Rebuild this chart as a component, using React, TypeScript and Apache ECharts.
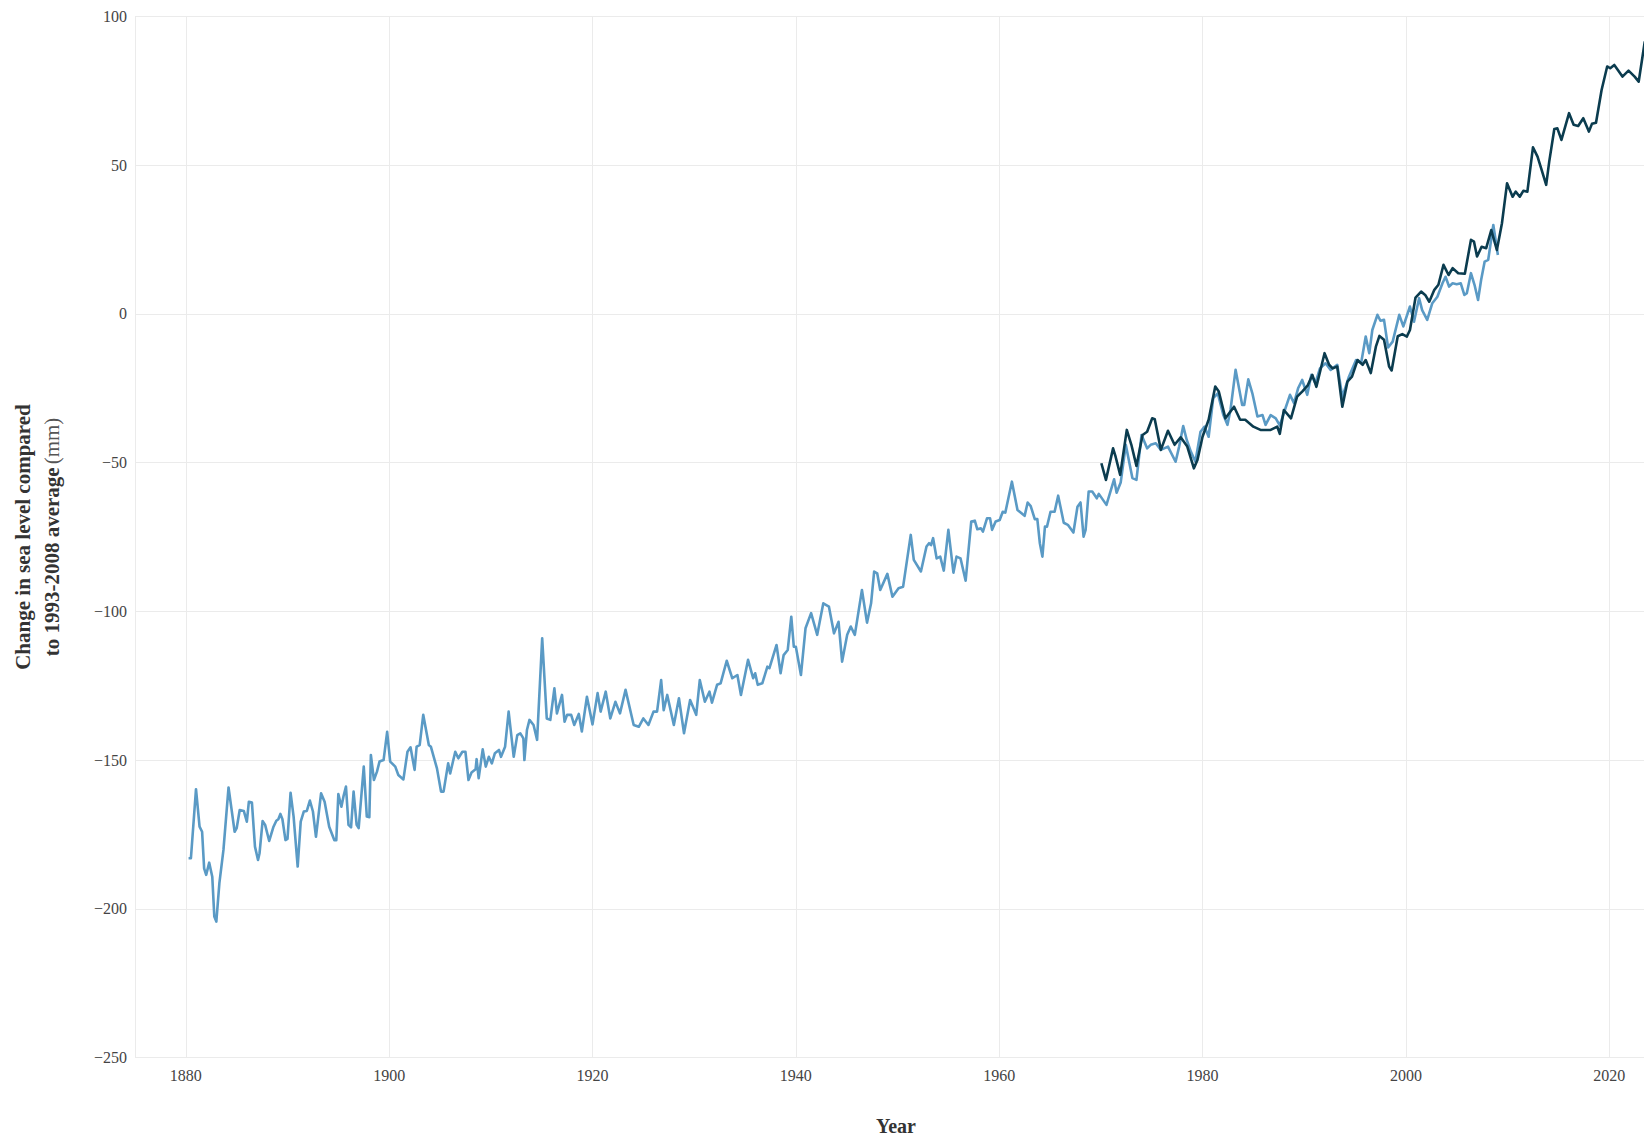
import React, { useEffect, useRef } from "react";
import * as echarts from "echarts";

// Church and White (2011) reconstruction: [year, mm]
const churchWhite: [number, number][] = [
  [1880.27, -183.0], [1880.5, -183.0], [1881.0, -159.8], [1881.35, -172.4], [1881.6, -174.1],
  [1881.8, -186.4], [1882.0, -188.6], [1882.3, -184.5], [1882.6, -189.2], [1882.8, -202.6],
  [1883.0, -204.3], [1883.3, -191.4], [1883.7, -180.2], [1884.2, -159.2], [1884.8, -174.1],
  [1885.0, -172.9], [1885.3, -166.8], [1885.7, -167.1], [1886.0, -170.7], [1886.2, -164.0],
  [1886.5, -164.3], [1886.8, -179.1], [1887.1, -183.6], [1887.25, -181.3], [1887.55, -170.5],
  [1887.8, -171.8], [1888.2, -177.2], [1888.6, -172.6], [1888.9, -170.4], [1889.1, -169.9],
  [1889.3, -168.1], [1889.5, -169.9], [1889.8, -176.9], [1890.0, -176.5], [1890.3, -161.0],
  [1890.6, -169.0], [1891.0, -185.8], [1891.3, -170.7], [1891.6, -167.3], [1891.9, -167.1],
  [1892.2, -163.6], [1892.5, -167.3], [1892.8, -175.8], [1893.3, -161.2], [1893.65, -164.0],
  [1894.1, -172.4], [1894.6, -176.9], [1894.8, -176.9], [1895.0, -161.4], [1895.3, -165.7],
  [1895.5, -162.3], [1895.75, -158.9], [1896.0, -171.8], [1896.25, -172.6], [1896.5, -160.6],
  [1896.8, -171.8], [1897.0, -172.9], [1897.5, -152.2], [1897.8, -169.0], [1898.05, -169.2],
  [1898.2, -148.3], [1898.5, -156.7], [1898.8, -153.9], [1899.05, -150.5], [1899.45, -150.0],
  [1899.8, -140.5], [1900.1, -150.5], [1900.6, -152.2], [1900.9, -155.0], [1901.4, -156.5],
  [1901.8, -147.2], [1902.1, -145.7], [1902.5, -153.3], [1902.7, -145.5], [1903.0, -145.0],
  [1903.35, -134.8], [1903.9, -144.9], [1904.1, -145.5], [1904.7, -152.8], [1905.1, -160.6],
  [1905.35, -160.6], [1905.8, -151.1], [1906.0, -154.5], [1906.5, -147.2], [1906.8, -149.4],
  [1907.2, -147.2], [1907.5, -147.2], [1907.8, -156.7], [1908.1, -154.2], [1908.5, -153.1],
  [1908.6, -149.7], [1908.8, -156.1], [1909.2, -146.4], [1909.5, -152.2], [1909.8, -148.9],
  [1910.1, -151.1], [1910.4, -147.7], [1910.8, -146.6], [1911.0, -148.9], [1911.4, -145.5],
  [1911.75, -133.7], [1912.25, -148.9], [1912.6, -141.6], [1912.9, -141.0], [1913.2, -142.7],
  [1913.3, -150.0], [1913.55, -139.9], [1913.8, -136.5], [1914.2, -138.2], [1914.55, -143.2],
  [1915.05, -109.1], [1915.5, -136.0], [1915.85, -136.5], [1916.25, -125.9], [1916.5, -134.3],
  [1917.0, -128.1], [1917.25, -137.1], [1917.5, -134.8], [1917.9, -134.8], [1918.2, -138.2],
  [1918.65, -134.5], [1918.95, -140.4], [1919.45, -128.7], [1920.0, -138.0], [1920.5, -127.5],
  [1920.8, -133.7], [1921.3, -127.0], [1921.75, -136.0], [1922.25, -130.4], [1922.7, -134.3],
  [1923.25, -126.4], [1924.05, -138.2], [1924.55, -138.8], [1925.0, -136.0], [1925.5, -138.2],
  [1926.0, -133.7], [1926.35, -133.7], [1926.75, -123.1], [1927.0, -133.2], [1927.35, -128.1],
  [1928.0, -138.2], [1928.5, -129.2], [1929.0, -141.0], [1929.6, -129.8], [1930.2, -134.8],
  [1930.55, -123.1], [1931.05, -130.4], [1931.5, -127.0], [1931.75, -130.7], [1932.25, -124.7],
  [1932.6, -124.2], [1933.2, -116.6], [1933.75, -122.5], [1934.25, -121.4], [1934.6, -128.1],
  [1935.3, -116.3], [1935.8, -122.5], [1936.0, -120.8], [1936.25, -124.7], [1936.7, -124.2],
  [1937.2, -118.6], [1937.4, -119.1], [1938.1, -111.3], [1938.5, -120.8], [1938.8, -114.7],
  [1939.2, -113.0], [1939.55, -101.8], [1939.8, -111.9], [1940.0, -111.9], [1940.5, -121.4],
  [1940.95, -105.7], [1941.5, -100.6], [1942.1, -107.9], [1942.7, -97.3], [1943.25, -98.4],
  [1943.75, -107.4], [1944.2, -103.5], [1944.55, -116.9], [1945.05, -107.9], [1945.4, -105.1],
  [1945.8, -107.9], [1946.5, -92.8], [1947.0, -103.8], [1947.4, -97.3], [1947.7, -86.6],
  [1948.0, -87.2], [1948.3, -92.8], [1949.0, -87.4], [1949.5, -95.1], [1950.1, -92.2],
  [1950.55, -91.7], [1951.3, -74.3], [1951.6, -82.7], [1952.3, -86.6], [1952.85, -78.2],
  [1953.1, -77.1], [1953.3, -77.7], [1953.5, -75.4], [1953.85, -82.2], [1954.2, -81.6],
  [1954.55, -86.3], [1955.0, -72.6], [1955.5, -87.0], [1955.8, -81.6], [1956.2, -82.2],
  [1956.7, -89.7], [1957.25, -69.8], [1957.6, -69.5], [1957.85, -72.4], [1958.2, -72.1],
  [1958.4, -73.2], [1958.8, -68.7], [1959.1, -68.7], [1959.3, -72.6], [1959.65, -69.8],
  [1960.05, -69.3], [1960.35, -66.5], [1960.6, -66.8], [1961.25, -56.4], [1961.8, -65.9],
  [1962.2, -67.0], [1962.5, -67.9], [1962.8, -63.4], [1963.1, -64.6], [1963.5, -69.0],
  [1963.75, -69.0], [1964.0, -77.1], [1964.25, -81.6], [1964.5, -71.5], [1964.7, -71.5],
  [1965.05, -66.5], [1965.45, -66.5], [1965.8, -61.1], [1966.35, -70.2], [1966.75, -70.9],
  [1967.3, -73.5], [1967.7, -64.8], [1968.0, -63.4], [1968.3, -74.9], [1968.5, -72.6],
  [1968.8, -59.7], [1969.15, -59.7], [1969.6, -62.0], [1969.8, -60.5], [1970.55, -64.2],
  [1971.3, -55.6], [1971.55, -60.1], [1971.95, -56.7], [1972.45, -44.0], [1973.1, -55.2],
  [1973.5, -55.8], [1974.0, -40.7], [1974.55, -45.2], [1974.9, -44.0], [1975.4, -43.5],
  [1975.9, -45.7], [1976.6, -44.6], [1977.35, -49.7], [1977.7, -44.6], [1978.1, -37.7],
  [1978.45, -42.4], [1978.85, -46.3], [1979.3, -49.7], [1979.8, -39.6], [1980.2, -37.9],
  [1980.6, -41.3], [1981.05, -28.3], [1981.5, -26.7], [1982.05, -34.0], [1982.45, -37.3],
  [1982.75, -32.3], [1983.25, -18.8], [1983.9, -30.6], [1984.1, -30.6], [1984.5, -22.0],
  [1984.9, -26.7], [1985.4, -34.5], [1985.9, -34.0], [1986.2, -37.3], [1986.7, -34.0],
  [1987.2, -35.1], [1987.6, -37.5], [1988.1, -32.3], [1988.6, -27.2], [1989.0, -30.0],
  [1989.4, -25.0], [1989.8, -22.2], [1990.3, -27.2], [1990.7, -20.5], [1991.1, -23.3],
  [1991.55, -18.3], [1992.1, -16.6], [1992.6, -18.8], [1993.25, -17.1], [1993.75, -27.9],
  [1994.4, -21.1], [1995.1, -15.5], [1995.6, -16.5], [1996.05, -7.6], [1996.4, -13.2],
  [1996.7, -5.4], [1997.2, -0.3], [1997.5, -2.3], [1997.85, -2.0], [1998.25, -11.3],
  [1998.7, -9.3], [1999.35, -0.3], [1999.75, -4.2], [2000.4, 2.5], [2000.8, -2.6],
  [2001.3, 5.3], [2001.6, 1.3], [2002.1, -2.0], [2002.6, 3.6], [2003.1, 5.8],
  [2003.6, 10.3], [2003.9, 12.5], [2004.25, 9.2], [2004.6, 10.3], [2005.0, 10.0],
  [2005.4, 10.3], [2005.75, 6.4], [2006.0, 7.0], [2006.4, 13.7], [2006.75, 9.8],
  [2007.1, 4.7], [2007.4, 11.4], [2007.75, 17.6], [2008.1, 18.2], [2008.6, 29.9],
  [2009.05, 19.8],
];

// UHSLC: [year, mm]
const uhslc: [number, number][] = [
  [1970.05, -50.2], [1970.5, -55.8], [1971.2, -45.2], [1971.45, -48.0], [1971.9, -54.1],
  [1972.55, -39.0], [1973.0, -44.0], [1973.5, -51.1], [1974.1, -40.7], [1974.55, -39.6],
  [1975.05, -35.1], [1975.3, -35.4], [1975.9, -45.7], [1976.6, -39.3], [1977.25, -44.0],
  [1977.85, -41.5], [1978.5, -44.6], [1979.15, -51.9], [1979.5, -49.1], [1980.0, -41.3],
  [1980.6, -35.6], [1981.25, -24.4], [1981.6, -26.1], [1982.25, -35.1], [1983.1, -31.2],
  [1983.7, -35.6], [1984.2, -35.6], [1985.0, -37.9], [1985.7, -39.0], [1986.1, -39.0],
  [1986.7, -39.0], [1987.35, -37.9], [1987.6, -40.3], [1988.0, -32.3], [1988.7, -35.1],
  [1989.3, -27.8], [1989.8, -26.1], [1990.35, -24.0], [1990.8, -20.5], [1991.2, -24.5],
  [1992.0, -13.2], [1992.45, -17.1], [1992.8, -18.3], [1993.25, -17.7], [1993.75, -31.2],
  [1994.25, -22.8], [1994.7, -21.1], [1995.25, -15.5], [1995.75, -17.1], [1996.05, -15.5],
  [1996.55, -19.9], [1997.05, -11.0], [1997.4, -7.4], [1997.85, -8.7], [1998.35, -17.7],
  [1998.6, -19.0], [1999.2, -7.5], [1999.65, -6.8], [2000.1, -7.6], [2000.4, -5.4],
  [2000.95, 5.5], [2001.5, 7.5], [2001.9, 6.4], [2002.3, 4.1], [2002.8, 8.1],
  [2003.2, 9.8], [2003.7, 16.5], [2004.2, 13.1], [2004.6, 15.4], [2005.15, 13.7],
  [2005.8, 13.5], [2006.4, 24.9], [2006.7, 24.3], [2007.0, 19.3], [2007.45, 22.6],
  [2007.9, 22.1], [2008.4, 28.2], [2008.95, 21.5], [2009.45, 30.5], [2009.95, 43.9],
  [2010.5, 39.4], [2010.8, 41.1], [2011.2, 39.4], [2011.55, 41.4], [2011.95, 41.1],
  [2012.5, 56.0], [2012.95, 52.9], [2013.3, 49.0], [2013.8, 43.4], [2014.1, 51.2],
  [2014.6, 62.2], [2014.9, 62.4], [2015.3, 58.5], [2016.05, 67.5], [2016.5, 63.6],
  [2016.95, 63.2], [2017.45, 65.8], [2018.0, 61.3], [2018.3, 63.9], [2018.7, 64.3],
  [2019.25, 75.3], [2019.8, 83.2], [2020.1, 82.6], [2020.5, 83.7], [2020.85, 82.0],
  [2021.3, 79.8], [2021.9, 81.8], [2022.5, 79.8], [2022.9, 78.1], [2023.5, 91.6],
];

const xTickYears = [1880, 1900, 1920, 1940, 1960, 1980, 2000, 2020];
const yTicks = { min: -250, max: 100, step: 50 };

const SERIF = '"Liberation Serif", "Times New Roman", serif';

export default function App() {
  const ref = useRef<HTMLDivElement>(null);
  useEffect(() => {
    if (!ref.current) return;
    const chart = echarts.init(ref.current, undefined, { renderer: "svg" });
    const gridColor = "#ebebeb";
    chart.setOption({
      animation: false,
      backgroundColor: "#ffffff",
      grid: {
        left: 135,
        right: -13,
        top: 16.5,
        bottom: 80.5,
        containLabel: false,
        outerBoundsMode: "none",
      },
      xAxis: {
        type: "value",
        min: 1875,
        max: 2024.7,
        name: "Year",
        nameLocation: "middle",
        nameGap: 58,
        nameTextStyle: {
          fontFamily: SERIF,
          fontSize: 20,
          lineHeight: 20,
          fontWeight: "bold",
          color: "#333",
        },
        axisLine: { show: false },
        axisTick: { show: false, customValues: xTickYears },
        axisLabel: {
          customValues: xTickYears,
          fontFamily: SERIF,
          fontSize: 16,
          color: "#444",
          margin: 10,
          formatter: (v: number) => String(v),
        },
        splitLine: { show: true, lineStyle: { color: gridColor, width: 1 } },
      },
      yAxis: {
        type: "value",
        min: yTicks.min,
        max: yTicks.max,
        interval: yTicks.step,
        name: "{b|Change in sea level compared}\n{b|to 1993-2008 average} {n|(mm)}",
        nameLocation: "middle",
        nameRotate: 90,
        nameGap: 69,
        nameTextStyle: {
          fontFamily: SERIF,
          color: "#333",
          lineHeight: 29,
          rich: {
            b: { fontFamily: SERIF, fontSize: 21, fontWeight: "bold", color: "#333", lineHeight: 29 },
            n: { fontFamily: SERIF, fontSize: 21, fontWeight: "normal", color: "#555", lineHeight: 29 },
          },
        },
        axisLine: { show: true, lineStyle: { color: gridColor, width: 1 } },
        axisTick: { show: false },
        axisLabel: {
          fontFamily: SERIF,
          fontSize: 16,
          color: "#444",
          margin: 8,
          formatter: (v: number) => (v < 0 ? "\u2212" + Math.abs(v) : String(v)),
        },
        splitLine: { show: true, lineStyle: { color: gridColor, width: 1 } },
      },
      series: [
        {
          name: "Church and White (2011)",
          type: "line",
          data: churchWhite,
          showSymbol: false,
          lineStyle: { color: "#5a9ac5", width: 2.6, join: "round" },
          itemStyle: { color: "#5a9ac5" },
          z: 2,
        },
        {
          name: "UHSLC",
          type: "line",
          data: uhslc,
          showSymbol: false,
          lineStyle: { color: "#0b3c4f", width: 2.6, join: "round" },
          itemStyle: { color: "#0b3c4f" },
          z: 3,
        },
      ],
    });
    return () => chart.dispose();
  }, []);
  return (
    <div
      ref={ref}
      style={{ position: "absolute", left: 0, top: 0, width: 1644, height: 1138, overflow: "hidden" }}
    />
  );
}
